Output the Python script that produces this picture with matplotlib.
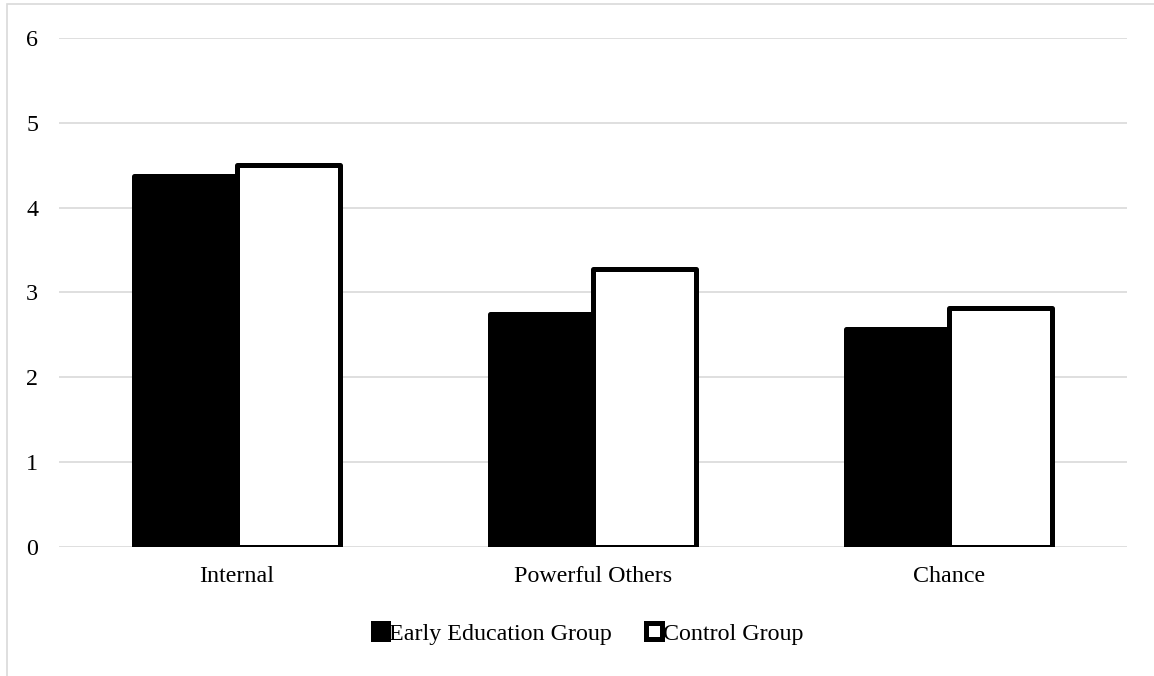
import matplotlib
matplotlib.use("Agg")
import matplotlib.pyplot as plt
from matplotlib.patches import Rectangle
import numpy as np

# Mittelwerte je Skala
categories = ["Internal", "Powerful Others", "Chance"]
early_education = [4.37, 2.74, 2.57]
control_group = [4.50, 3.28, 2.82]
series_names = ["Early Education Group", "Control Group"]
y_ticks = [0, 1, 2, 3, 4, 5, 6]

plt.rcParams["font.family"] = ["Liberation Serif", "DejaVu Serif"]

fig = plt.figure(figsize=(11.54, 6.76), dpi=100)
ax = fig.add_axes([0.0511, 0.1913, 0.9255, 0.7525])

# Rahmen um den Diagrammbereich
fig.patches.append(Rectangle((7 / 1154, -0.1), 1.2, 1.1 - 4 / 676,
                             transform=fig.transFigure, fill=False,
                             edgecolor="#d9d9d9", linewidth=1.2))

x = np.arange(len(categories))
width = 0.289
ax.bar(x - width / 2, early_education, width, color="black",
       edgecolor="black", linewidth=3.6, joinstyle="round",
       label=series_names[0], zorder=3)
ax.bar(x + width / 2, control_group, width, color="white",
       edgecolor="black", linewidth=3.6, joinstyle="round",
       label=series_names[1], zorder=3)

ax.set_xlim(-0.5, 2.5)
ax.set_ylim(0, 6)
ax.set_yticks(y_ticks)
ax.set_xticks(x)
ax.set_xticklabels(categories)
ax.yaxis.grid(True, color="#d9d9d9", linewidth=1.2, zorder=0)
ax.set_axisbelow(True)
for s in ax.spines.values():
    s.set_visible(False)
ax.tick_params(axis="y", length=0, pad=15, labelsize=17.3)
ax.tick_params(axis="x", length=0, pad=14, labelsize=17.3)

fig.legend(loc="center", bbox_to_anchor=(0.5095, 0.062), ncol=2, frameon=False,
           fontsize=17.3, handlelength=0.65, handleheight=0.65,
           handletextpad=0.05, columnspacing=1.4)

fig.savefig("out.png", dpi=100)
